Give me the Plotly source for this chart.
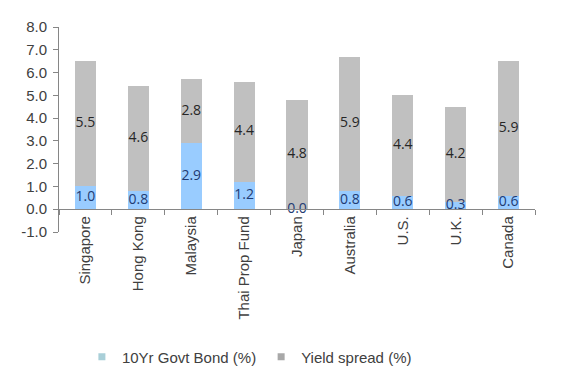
import plotly.graph_objects as go

categories = ["Singapore", "Hong Kong", "Malaysia", "Thai Prop Fund", "Japan",
              "Australia", "U.S.", "U.K.", "Canada"]
govt_bond = [1.0, 0.8, 2.9, 1.2, 0.0, 0.8, 0.6, 0.3, 0.6]
yield_spread = [5.5, 4.6, 2.8, 4.4, 4.8, 5.9, 4.4, 4.2, 5.9]
y_ticks = [-1.0, 0.0, 1.0, 2.0, 3.0, 4.0, 5.0, 6.0, 7.0, 8.0]
series_names = ["10Yr Govt Bond (%)", "Yield spread (%)"]

BLUE = "#99CCFF"
GREY = "#C0C0C0"
LEG_BLUE = "#A9CFD8"
LEG_GREY = "#A8A8A8"
AXIS = "#868686"
FONT = "Liberation Sans, Arial, sans-serif"

fig = go.Figure()
fig.add_trace(go.Bar(x=categories, y=govt_bond, name=series_names[0], showlegend=False,
                     marker=dict(color=BLUE, line=dict(width=0)), hoverinfo="skip"))
fig.add_trace(go.Bar(x=categories, y=yield_spread, name=series_names[1], showlegend=False,
                     marker=dict(color=GREY, line=dict(width=0)), hoverinfo="skip"))

# data labels at segment midpoints
bond_mid = [b / 2 for b in govt_bond]
spread_mid = [b + s / 2 for b, s in zip(govt_bond, yield_spread)]
fig.add_trace(go.Scatter(x=categories, y=bond_mid, mode="text",
                         text=[f"{v:.1f}" for v in govt_bond],
                         textfont=dict(family="Open Sans, sans-serif", size=14, color="#1F3B73"),
                         showlegend=False, hoverinfo="skip", cliponaxis=False))
fig.add_trace(go.Scatter(x=categories, y=spread_mid, mode="text",
                         text=[f"{v:.1f}" for v in yield_spread],
                         textfont=dict(family="Open Sans, sans-serif", size=14, color="#262626"),
                         showlegend=False, hoverinfo="skip", cliponaxis=False))

# legend entries with small square markers
for nm, col in zip(series_names, [LEG_BLUE, LEG_GREY]):
    fig.add_trace(go.Scatter(x=[None], y=[None], mode="markers", name=nm,
                             marker=dict(symbol="square", size=7, color=col),
                             hoverinfo="skip"))

ymin, ymax = -1.0, 8.0
zero_pos = (0 - ymin) / (ymax - ymin)

fig.update_layout(
    width=561, height=376,
    margin=dict(l=51, r=34, t=19, b=152, autoexpand=False),
    paper_bgcolor="white", plot_bgcolor="white",
    barmode="stack", bargap=0.6,
    font=dict(family=FONT, size=15, color="#404040"),
    showlegend=True,
    legend=dict(orientation="h", x=0.40, xanchor="center", y=-0.61, yanchor="middle",
                font=dict(size=15, color="#404040"), itemwidth=30, traceorder="normal"),
    xaxis=dict(type="category", anchor="free", position=zero_pos, automargin=False,
               showline=True, linecolor=AXIS, linewidth=1,
               ticks="outside", tickson="boundaries", ticklen=5, tickcolor=AXIS,
               tickangle=-90, showgrid=False, zeroline=False,
               tickfont=dict(size=15, color="#404040")),
    yaxis=dict(range=[ymin, ymax], tickvals=y_ticks, automargin=False,
               ticktext=[f"{v:.1f}" for v in y_ticks],
               showline=True, linecolor=AXIS, linewidth=1,
               ticks="outside", ticklen=5, tickcolor=AXIS, ticklabelstandoff=3,
               showgrid=False, zeroline=False,
               tickfont=dict(size=15, color="#404040")),
)

fig.write_html("out.html")
